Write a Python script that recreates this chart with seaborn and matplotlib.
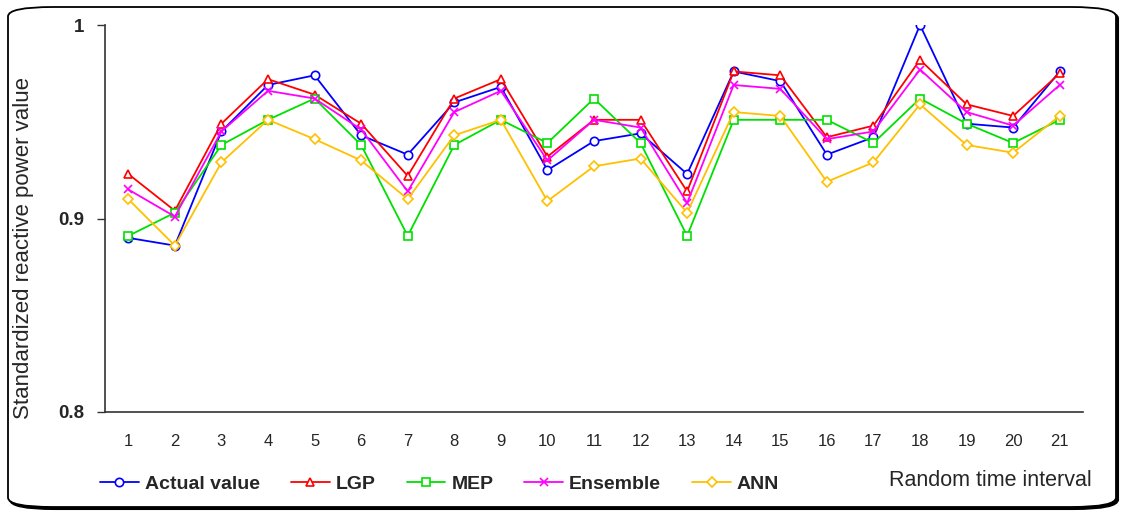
import numpy as np
import pandas as pd
import matplotlib
matplotlib.use('Agg')
import matplotlib.pyplot as plt
import seaborn as sns
from matplotlib.patches import FancyBboxPatch

intervals = list(range(1, 22))
actual = [0.890, 0.886, 0.945, 0.969, 0.974, 0.943, 0.933, 0.960, 0.968, 0.925, 0.940,
          0.944, 0.923, 0.976, 0.971, 0.933, 0.942, 1.000, 0.949, 0.947, 0.976]
lgp = [0.923, 0.904, 0.949, 0.972, 0.964, 0.949, 0.922, 0.962, 0.972, 0.932, 0.951,
       0.951, 0.914, 0.976, 0.974, 0.942, 0.948, 0.982, 0.959, 0.953, 0.975]
mep = [0.891, 0.903, 0.938, 0.951, 0.962, 0.938, 0.891, 0.938, 0.951, 0.939, 0.962,
       0.939, 0.891, 0.951, 0.951, 0.951, 0.939, 0.962, 0.949, 0.939, 0.951]
ensemble = [0.915, 0.901, 0.945, 0.966, 0.962, 0.946, 0.914, 0.955, 0.966, 0.930, 0.951,
            0.947, 0.908, 0.969, 0.967, 0.941, 0.945, 0.977, 0.955, 0.948, 0.969]
ann = [0.910, 0.886, 0.929, 0.951, 0.941, 0.930, 0.910, 0.943, 0.951, 0.909, 0.927,
       0.931, 0.903, 0.955, 0.953, 0.919, 0.929, 0.959, 0.938, 0.934, 0.953]

series = [('Actual value', actual, '#0000ff', 'o'),
          ('LGP', lgp, '#ff0000', '^'),
          ('MEP', mep, '#00e000', 's'),
          ('Ensemble', ensemble, '#ff00ff', 'x'),
          ('ANN', ann, '#ffc000', 'D')]

sns.set_style('white')
plt.rcParams['font.family'] = ['Liberation Sans', 'DejaVu Sans']

W, H = 1121, 514
fig = plt.figure(figsize=(W/100, H/100), dpi=100)

# rounded frame with a little shadow
shadow = FancyBboxPatch((10/W, 5/H), 1108/W, 500/H, transform=fig.transFigure,
                        boxstyle='round,pad=0,rounding_size=0.04', facecolor='black',
                        edgecolor='black', linewidth=1.5, mutation_aspect=H/W, zorder=-3)
border = FancyBboxPatch((8/W, 7/H), 1108/W, 500/H, transform=fig.transFigure,
                        boxstyle='round,pad=0,rounding_size=0.04', facecolor='white',
                        edgecolor='black', linewidth=1.3, mutation_aspect=H/W, zorder=-2)
fig.patches.extend([shadow, border])

ax = fig.add_axes([105/W, 1-412/H, (1083-105)/W, (412-25)/H])
ax.patch.set_alpha(0)

for name, vals, col, mk in series:
    ms = 5 if mk == 'D' else 6
    sns.lineplot(x=intervals, y=vals, ax=ax, color=col, marker=mk, label=name,
                 linewidth=1.3, markersize=ms, markerfacecolor='white' if mk != 'x' else col,
                 markeredgecolor=col, markeredgewidth=1.2)

ax.set_xlim(0.5, 21.5)
ax.set_ylim(0.8, 1.0)
ax.set_yticks([0.8, 0.9, 1.0])
ax.set_yticklabels(['0.8', '0.9', '1'], fontweight='bold', fontsize=13.5)
ax.set_xticks(intervals)
ax.set_xticklabels([str(i) for i in intervals], fontsize=12)
ax.set_xticks(np.arange(0.5, 22, 1), minor=True)
ax.tick_params(axis='x', which='major', length=0, pad=16)
ax.tick_params(axis='x', which='minor', length=6, width=1, color='#333333', direction='out')
ax.tick_params(axis='y', which='major', length=6, width=1, color='#333333', direction='out',
               left=True, pad=9)
ax.spines['top'].set_visible(False)
ax.spines['right'].set_visible(False)
for s in ['left', 'bottom']:
    ax.spines[s].set_color('#333333')
    ax.spines[s].set_linewidth(1.2)
ax.set_ylabel('')
ax.set_xlabel('')
fig.text(24/W, 1-248/H, 'Standardized reactive power value', fontsize=16,
         rotation=90, ha='center', va='center')

ax.legend(loc='center left', bbox_to_anchor=(100/W, 1-484/H), bbox_transform=fig.transFigure,
          ncol=5, frameon=False, prop={'weight': 'bold', 'size': 14}, handlelength=2.0,
          columnspacing=1.6, handletextpad=0.3, borderpad=0, borderaxespad=0)
fig.text(1092/W, 1-481/H, 'Random time interval', fontsize=15.5, ha='right', va='center')

fig.savefig('out.png', dpi=100)
